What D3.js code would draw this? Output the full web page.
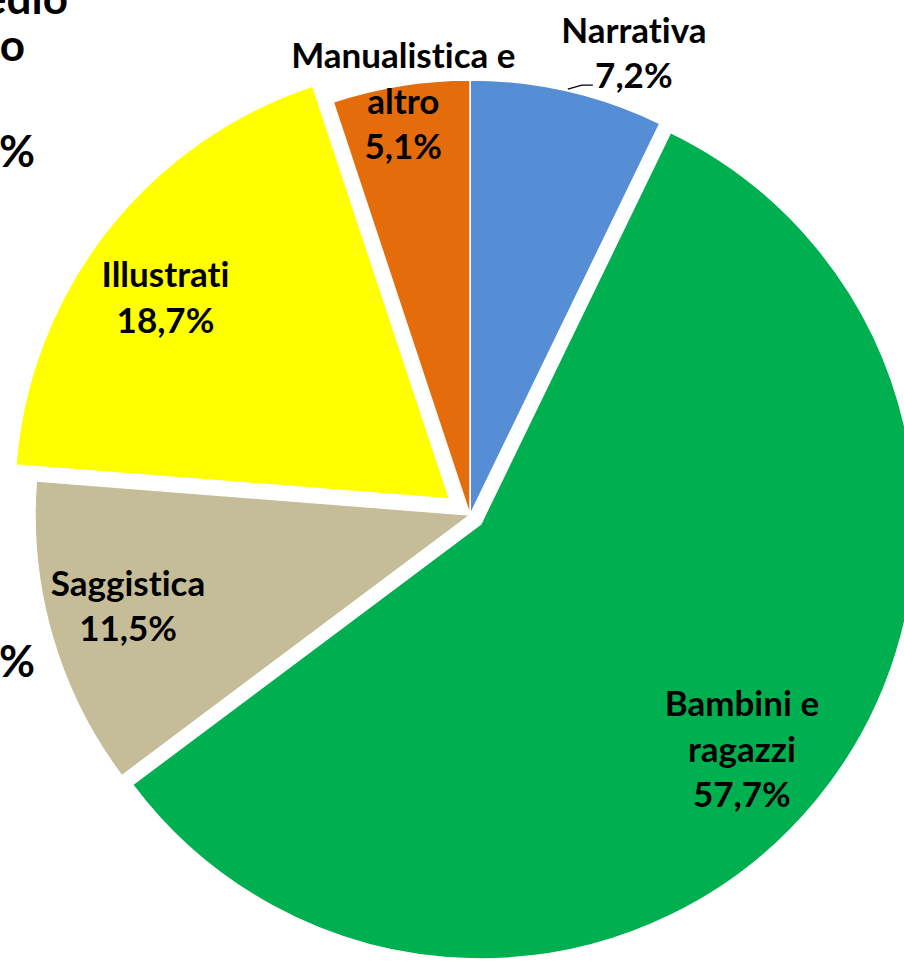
<!DOCTYPE html>
<html>
<head>
<meta charset="utf-8">
<style>
body { margin: 0; background: #fff; }
svg { display: block; }
.lbl text { font-family: Lato, "Liberation Sans", sans-serif; font-weight: 700; fill: #000;
  font-variant-ligatures: none; font-feature-settings: "liga" 0, "clig" 0; }
</style>
<script src="https://cdn.jsdelivr.net/npm/d3@7"></script>
</head>
<body>
<svg width="904" height="966"></svg>
<script>

// data
var categories = ["Narrativa", "Bambini e ragazzi", "Saggistica", "Illustrati", "Manualistica e altro"];
var values = [7.2, 57.7, 11.5, 18.7, 5.1];
var labelLines = [["Narrativa", "7,2%"], ["Bambini e", "ragazzi", "57,7%"], ["Saggistica", "11,5%"],
                  ["Illustrati", "18,7%"], ["Manualistica e", "altro", "5,1%"]];
// fragments of the neighbouring chart, cut by the left border
var cutTexts = ["medio", "o", "%", "%"];

// style
var colors = ["#558ED5", "#00B050", "#C4BD97", "#FFFF00", "#E46C0A"];
var explode = [0, 14, 0, 26, 0];
var labelR = [490, 345, 354, 348, 419];
var labelShift = [6.6, 1.3, 1.2, -2.8, 0];   // degrees

var svg = d3.select("svg"),
    cx = 470, cy = 515, r = 435,
    fs = 35, lh = 45.5;

var pie = d3.pie().sort(null).value(function(d) { return d; });
var arc = d3.arc().innerRadius(0).outerRadius(r);
var arcs = pie(values);

function polar(a, d) { return [Math.sin(a) * d, -Math.cos(a) * d]; }
function mid(d) { return (d.startAngle + d.endAngle) / 2; }

var g = svg.append("g").attr("transform", "translate(" + cx + "," + cy + ")");

g.selectAll("path")
  .data(arcs)
  .enter().append("path")
    .attr("d", arc)
    .attr("fill", function(d, i) { return colors[i]; })
    .attr("stroke", "#fff")
    .attr("stroke-width", 1.5)
    .attr("transform", function(d, i) {
      var o = polar(mid(d), explode[i]);
      return "translate(" + o[0] + "," + o[1] + ")";
    });

// leader for Narrativa
var a0 = mid(arcs[0]), p1 = polar(a0, r + 2);
g.append("polyline")
  .attr("points", [p1, [p1[0] + 14, p1[1] - 4], [p1[0] + 25, p1[1] - 4]].map(function(p) { return p.join(","); }).join(" "))
  .attr("fill", "none")
  .attr("stroke", "#000")
  .attr("stroke-width", 1.3);

var lbl = g.append("g").attr("class", "lbl");
arcs.forEach(function(d, i) {
  var a = mid(d) + labelShift[i] * Math.PI / 180;
  var o = polar(mid(d), explode[i]);
  var p = polar(a, labelR[i]);
  var x = p[0] + o[0], y = p[1] + o[1];
  var lines = labelLines[i];
  var y0 = y - (lines.length - 1) * lh / 2 + fs * 0.35;
  var t = lbl.append("text").attr("text-anchor", "middle").style("font-size", fs + "px");
  lines.forEach(function(s, k) {
    t.append("tspan").attr("x", x).attr("y", y0 + k * lh).text(s);
  });
});

// cut-off text at the left edge
var cut = svg.append("g").attr("class", "lbl");
var cutPos = [[68, 14], [25, 61], [35, 167], [35, 677]];
cut.selectAll("text")
  .data(cutTexts)
  .enter().append("text")
    .attr("text-anchor", "end")
    .attr("x", function(d, i) { return cutPos[i][0]; })
    .attr("y", function(d, i) { return cutPos[i][1]; })
    .style("font-size", "44px")
    .text(function(d) { return d; });

</script>
</body>
</html>
